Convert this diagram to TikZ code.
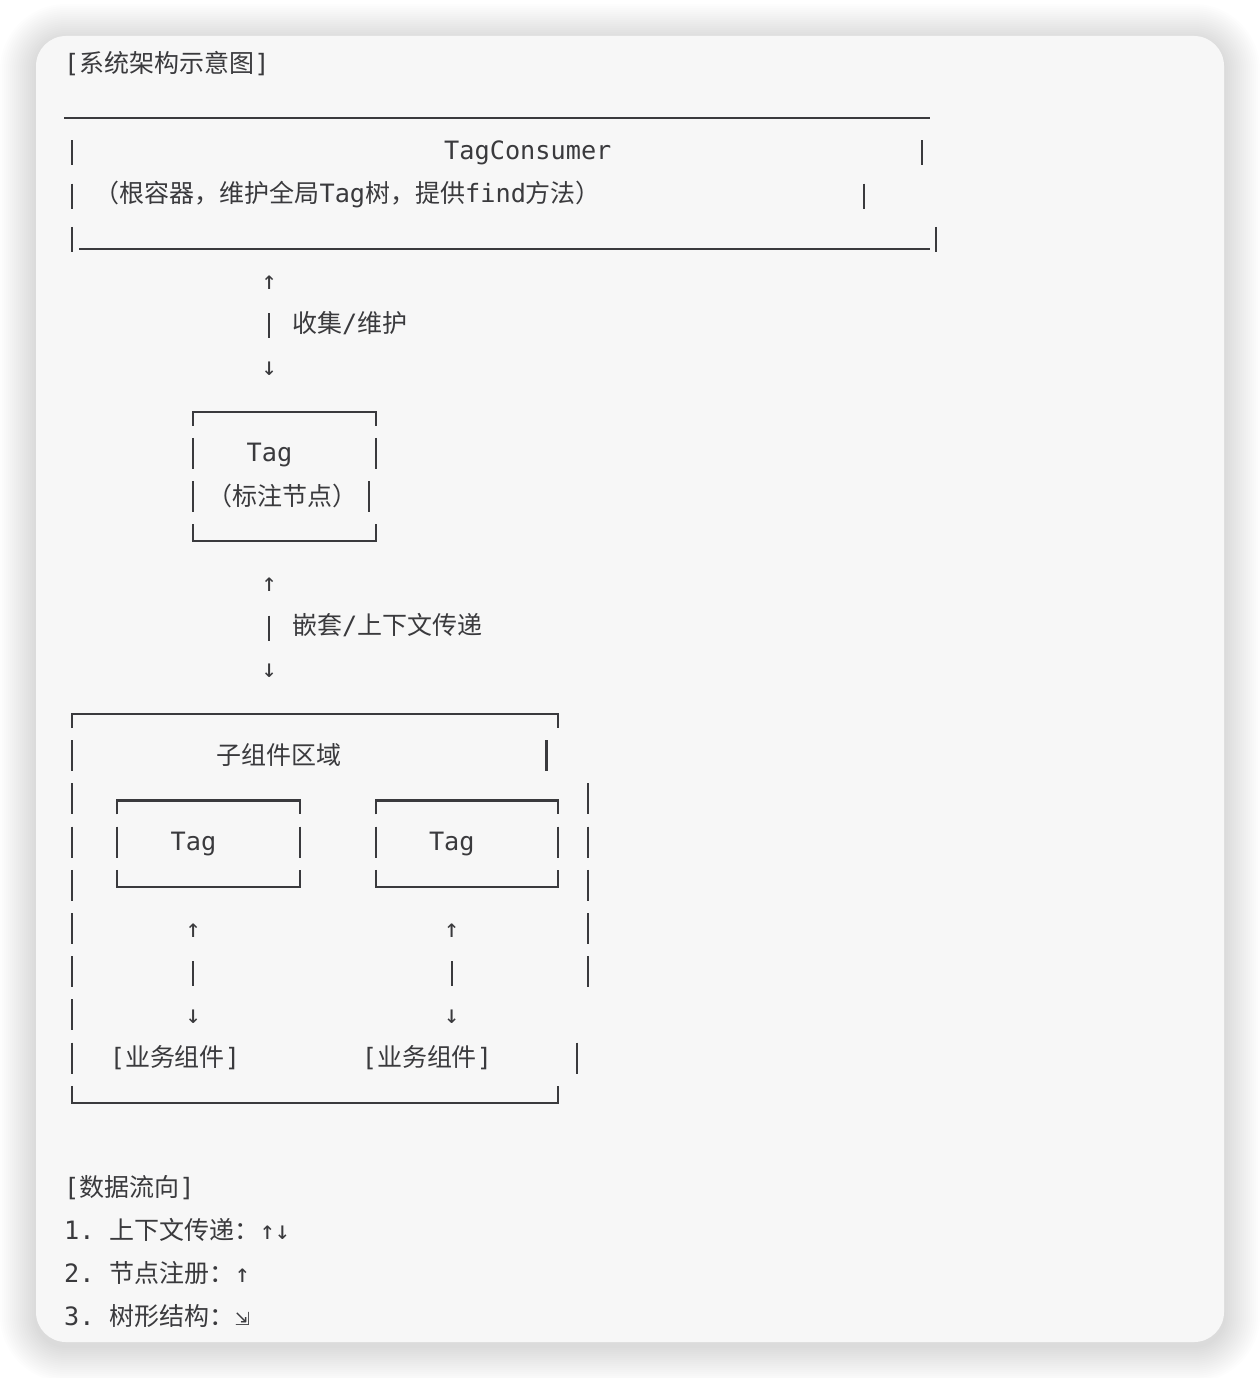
\documentclass[tikz,border=0pt]{standalone}
\usepackage{fontspec}
\setmainfont{DejaVu Sans Mono}
\newfontfamily\cjk{Noto Sans CJK SC}[Scale=0.99]
\newfontfamily\arw{DejaVu Sans}
\definecolor{ink}{HTML}{3A3A3D}
\definecolor{cardbg}{HTML}{F7F7F7}
\frenchspacing
\begin{document}
\begin{tikzpicture}[x=1pt,y=-1pt,
	bar/.style={draw=ink,line width=2.2pt},
	txt/.style={anchor=base west,inner sep=0pt,text=ink,font=\fontsize{25.25}{30}\selectfont},
	arr/.style={anchor=base,inner sep=0pt,text=ink,font=\fontsize{25.25}{30}\selectfont}]
	\useasboundingbox (0,0) rectangle (1260,1378);
	\foreach \i in {1,...,18} {
		\pgfmathsetmacro\r{30+2*\i}
		\fill[black,opacity=0.0065,rounded corners=\r pt] ({36-2*\i},{40-2*\i}) rectangle ({1224+2*\i},{1346+2*\i});
	}
	\fill[cardbg,rounded corners=30pt] (36,36) rectangle (1224,1342);
	\node[txt] (title) at (64,73) {[{\cjk 系统架构示意图}]};
	\draw[bar] (64,118) -- (930,118);
	\draw[bar] (79.2,249) -- (930,249);
	\node[txt] (tc) at (444,159.4) {TagConsumer};
	\node[txt] (tcdesc) at (94.4,202.6) {{\cjk （根容器，维护全局}Tag{\cjk 树，提供}find{\cjk 方法）}};
	\node[txt] (collect) at (292,332.2) {{\cjk 收集}/{\cjk 维护}};
	\node[txt] (tag) at (246.4,461.8) {Tag};
	\node[txt] (tagdesc) at (207.5,505) {\cjk （标注节点）};
	\node[txt] (nest) at (292,634.6) {{\cjk 嵌套}/{\cjk 上下文传递}};
	\node[txt] (sub) at (216,764.2) {\cjk 子组件区域};
	\node[txt] (tagL) at (170.4,850.6) {Tag};
	\node[txt] (tagR) at (428.8,850.6) {Tag};
	\node[txt] (bizL) at (109.6,1066.6) {[{\cjk 业务组件}]};
	\node[txt] (bizR) at (361.6,1066.6) {[{\cjk 业务组件}]};
	\node[txt] (flow) at (64,1196.2) {[{\cjk 数据流向}]};
	\node[txt] (item1) at (64,1239.4) {1. {\cjk 上下文传递：}↑↓};
	\node[txt] (item2) at (64,1282.6) {2. {\cjk 节点注册：}↑};
	\node[txt] (item3) at (64,1325.8) {3. {\cjk 树形结构：}{\arw\fontsize{18}{20}\selectfont ⇲}};
	\foreach \x/\y/\a [count=\n] in {269.2/289/↑, 269.2/375.4/↓, 269.2/591.4/↑, 269.2/677.8/↓,
		193.2/937/↑, 451.6/937/↑, 193.2/1023.4/↓, 451.6/1023.4/↓}
		\node[arr] (a\n) at (\x,\y) {\a};
	\foreach \x/\y in {72/159.4, 922/159.4, 72/202.6, 864/202.6, 72/245.8, 936/245.8,
		269.2/332.2, 269.2/634.6, 193.2/980.2, 451.6/980.2}
		\draw[bar] (\x,\y-19) -- (\x,\y+6);
	\foreach \x/\y in {193.2/461.8, 375.6/461.8, 193.2/505, 369.3/505, 546.4/764.2,
		117.2/850.6, 299.6/850.6, 375.6/850.6, 558/850.6, 576.8/1066.6}
		\draw[bar] (\x,\y-24) -- (\x,\y+7);
	\foreach \y in {764.2,807.4,...,1066.6} \draw[bar] (71.6,\y-24) -- (71.6,\y+7);
	\foreach \y in {807.4,850.6,...,1023.4} \draw[bar] (587.6,\y-24) -- (587.6,\y+7);
	\foreach \a/\b/\y in {193.2/375.6/418.6, 71.6/558/721, 117.2/299.6/807.4, 375.6/558/807.4}
		\draw[bar] (\a,\y+7) -- (\a,\y-7) -- (\b,\y-7) -- (\b,\y+7);
	\foreach \a/\b/\y in {193.2/375.6/548.2, 71.6/558/1109.8, 117.2/299.6/893.8, 375.6/558/893.8}
		\draw[bar] (\a,\y-24) -- (\a,\y-7) -- (\b,\y-7) -- (\b,\y-24);
\end{tikzpicture}
\end{document}
